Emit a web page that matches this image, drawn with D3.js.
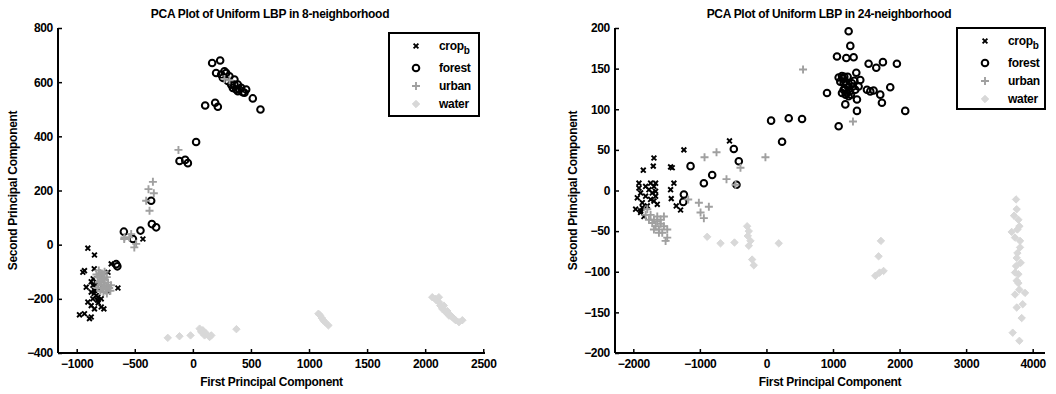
<!DOCTYPE html>
<html><head><meta charset="utf-8">
<script src="https://cdn.jsdelivr.net/npm/d3@7"></script>
<style>
body{margin:0;background:#fff;}
svg text{font-family:"Liberation Sans",Arial,sans-serif;font-weight:bold;letter-spacing:-0.3px;}
</style></head>
<body><svg id="c" width="1056" height="394"></svg>
<script>
// ---------- data: left panel (8-neighborhood) ----------
const cropL = [[-904,-13],[-847,-38],[-933,-96],[-947,-102],[-849,-89],[-731,-102],[-703,-71],[-645,-160],
 [-918,-157],[-875,-175],[-847,-169],[-832,-188],[-861,-200],[-818,-194],[-904,-212],[-875,-225],[-789,-230],
 [-847,-237],[-933,-255],[-976,-259],[-875,-267],[-890,-273],[-766,-237],[-731,-174],[-858,-126],[-832,-145],
 [-806,-163],[-875,-137],[-789,-200],[-815,-215],[-430,21],[-850,-180],[-820,-205],[-860,-150]];
const forestL = [[166,671],[235,680],[200,634],[272,640],[315,622],[358,610],[387,591],[416,579],[459,573],
 [373,573],[430,563],[516,540],[582,499],[106,514],[192,524],[215,509],[28,379],[-115,309],[-66,313],[-43,301],
 [-359,162],[-353,76],[-316,64],[-594,48],[-451,52],[-516,21],[-660,-72],[-650,-80],[244,628],[301,604],
 [330,591],[344,579],[401,573],[258,616],[287,634],[358,591],[387,567],[444,561]];
const urbanL = [[-810,-95],[-800,-105],[-790,-115],[-820,-120],[-780,-125],[-800,-135],[-770,-140],[-790,-150],
 [-760,-150],[-780,-160],[-750,-165],[-770,-175],[-740,-180],[-810,-140],[-760,-130],[-795,-170],[-745,-155],
 [-775,-110],[-830,-110],[-720,-160],[-730,-140],[-705,-150],[-760,-100],[-820,-160],[-740,-120],[-710,-170],
 [-344,232],[-382,205],[-336,190],[-402,162],[-373,125],[-124,350],[272,612],[315,607],
 [-589,27],[-531,39],[-488,3],[-504,-10],[-548,27],[-591,21]];
const waterL = [[-216,-344],[-115,-338],[-20,-335],[58,-310],[86,-316],[115,-328],[144,-341],[101,-335],
 [72,-322],[159,-335],[375,-312],[1081,-255],[1110,-271],[1138,-286],[1167,-298],[1095,-261],[1124,-280],
 [2061,-194],[2089,-200],[2118,-212],[2130,-225],[2147,-237],[2176,-249],[2200,-255],[2233,-267],[2262,-279],
 [2291,-286],[2118,-194],[2160,-225],[2190,-245],[2220,-262],[2250,-274],[2320,-279],[2095,-205],[2205,-262]];
// ---------- data: right panel (24-neighborhood) ----------
const cropR = [[-1850,25],[-1690,40],[-1700,30],[-1240,50],[-555,61],[-1440,29],[-1415,28],[-1390,9],[-1440,1],
 [-1430,-10],[-1355,-19],[-1290,-24],[-1915,9],[-1915,3],[-1890,-3],[-1940,-9],[-1865,-15],[-1965,-23],
 [-1890,-27],[-1840,-32],[-1790,-19],[-1740,-11],[-1765,1],[-1690,5],[-1665,9],[-1715,-3],[-1665,-7],
 [-1815,-7],[-1640,-17],[-1865,-21],[-1665,-1],[-1815,5],[-1740,9],[-1890,-25],[-1690,-13]];
const forestR = [[1235,196],[1260,178],[1060,165],[1200,163],[1310,164],[1535,156],[1650,151],[1750,158],
 [1960,156],[910,120],[1085,139],[1135,141],[1185,134],[1350,145],[1410,136],[1160,124],[1235,128],[1285,132],
 [1335,124],[1385,128],[1510,124],[1610,123],[1560,122],[1710,118],[1860,127],[1735,108],[1360,112],[1185,106],
 [1360,98],[2085,98],[1085,79],[1235,116],[1135,120],[1210,120],[1160,132],[1110,134],
 [1150,138],[1170,140],[1180,125],[1200,130],[1250,122],[1270,118],[1300,128],[1320,135],[1220,140],[1190,118],
 [70,86],[335,89],[535,88],[235,60],[-490,51],[-415,36],[-450,7],[-815,19],[-940,9],[-1140,30],[-1240,-5],[-1250,-14]];
const urbanR = [[550,149],[1300,85],[-15,41],[-750,47],[-930,41],[-390,28],[-600,14],[-465,7],[-1175,-11],
 [-1015,-15],[-865,-20],[-990,-27],[-940,-34],[-1490,-58],[-1515,-62],[-1790,-23],[-1740,-30],[-1690,-36],
 [-1640,-38],[-1590,-41],[-1615,-48],[-1540,-44],[-1690,-48],[-1565,-52],[-1765,-36],[-1640,-32],[-1715,-40],
 [-1540,-32],[-1490,-48],[-1665,-44],[-1615,-52],[-1815,-30],[-1590,-36]];
const waterR = [[-890,-57],[-690,-65],[-480,-64],[-290,-44],[-265,-50],[-280,-56],[-240,-62],[-265,-68],
 [-215,-85],[-190,-92],[185,-65],[1720,-62],[1685,-81],[1760,-99],[1635,-105],[1700,-101],[3750,-11],
 [3760,-23],[3785,-36],[3800,-44],[3685,-51],[3735,-58],[3810,-70],[3770,-77],[3820,-89],[3750,-93],
 [3785,-103],[3760,-111],[3800,-122],[3735,-128],[3885,-126],[3850,-140],[3760,-144],[3835,-157],
 [3700,-175],[3800,-185],[3720,-31],[3770,-48],[3810,-62],[3760,-83],[3735,-101],[3785,-114]];

const xTicksL = [-1000,-500,0,500,1000,1500,2000,2500];
const yTicksL = [-400,-200,0,200,400,600,800];
const xTicksR = [-2000,-1000,0,1000,2000,3000,4000];
const yTicksR = [-200,-150,-100,-50,0,50,100,150,200];
const seriesNames = ["crop","forest","urban","water"];

const svg = d3.select("#c");

function marker(g, type, x, y){
  if(type==="crop"){
    const s=2.4;
    g.append("path").attr("d",`M${x-s},${y-s}L${x+s},${y+s}M${x-s},${y+s}L${x+s},${y-s}`)
     .attr("stroke","#000").attr("stroke-width",1.9).attr("fill","none");
  } else if(type==="forest"){
    g.append("circle").attr("cx",x).attr("cy",y).attr("r",3.3)
     .attr("fill","none").attr("stroke","#000").attr("stroke-width",2);
  } else if(type==="urban"){
    const s=4;
    g.append("path").attr("d",`M${x-s},${y}L${x+s},${y}M${x},${y-s}L${x},${y+s}`)
     .attr("stroke","#a0a0a0").attr("stroke-width",1.9).attr("fill","none");
  } else {
    const s=3.7;
    g.append("path").attr("d",`M${x},${y-s}L${x+s},${y}L${x},${y+s}L${x-s},${y}Z`)
     .attr("fill","#d8d8d8").attr("stroke","#d8d8d8").attr("stroke-width",1);
  }
}

function panel(cfg){
  const x = d3.scaleLinear().domain(cfg.xd).range([cfg.x0,cfg.x1]);
  const y = d3.scaleLinear().domain(cfg.yd).range([cfg.y1,cfg.y0]);
  const g = svg.append("g");
  const data = [cfg.crop,cfg.forest,cfg.urban,cfg.water];
  seriesNames.forEach((n,i)=>{
    const sg=g.append("g");
    data[i].forEach(d=>marker(sg,n,x(d[0]),y(d[1])));
  });
  const ax = g.append("g").attr("transform",`translate(0,${cfg.y1})`)
    .call(d3.axisBottom(x).tickValues(cfg.xt).tickSizeInner(-4).tickSizeOuter(0).tickPadding(6).tickFormat(d3.format("d")));
  const ay = g.append("g").attr("transform",`translate(${cfg.x0},0)`)
    .call(d3.axisLeft(y).tickValues(cfg.yt).tickSizeInner(-4).tickSizeOuter(0).tickPadding(5).tickFormat(d3.format("d")));
  [ax,ay].forEach(a=>{
    a.select(".domain").remove();
    a.selectAll("line").attr("stroke","#000").attr("stroke-width",1.5);
    a.selectAll("text").attr("font-size",12).attr("fill","#000");
  });
  g.append("line").attr("x1",cfg.x0).attr("x2",cfg.x1).attr("y1",cfg.y1).attr("y2",cfg.y1).attr("stroke","#000").attr("stroke-width",2);
  g.append("line").attr("x1",cfg.x0).attr("x2",cfg.x0).attr("y1",cfg.y0).attr("y2",cfg.y1).attr("stroke","#000").attr("stroke-width",2);
  g.append("text").attr("x",cfg.tx).attr("y",18).attr("text-anchor","middle").attr("font-size",12).text(cfg.title);
  g.append("text").attr("x",(cfg.x0+cfg.x1)/2).attr("y",386).attr("text-anchor","middle").attr("font-size",12).text("First Principal Component");
  g.append("text").attr("transform",`translate(${cfg.lx},${(cfg.y0+cfg.y1)/2}) rotate(-90)`).attr("text-anchor","middle").attr("font-size",12).text("Second Principal Component");
  // legend
  const L=cfg.leg;
  g.append("rect").attr("x",L.x).attr("y",L.y).attr("width",L.w).attr("height",L.h)
   .attr("fill","#fff").attr("stroke","#000").attr("stroke-width",2);
  seriesNames.forEach((n,i)=>{
    const yy=L.rows[i];
    const lg=g.append("g");
    marker(lg,n,L.mx,yy);
    const t=g.append("text").attr("x",L.tx).attr("y",yy+4).attr("font-size",12);
    t.append("tspan").text(n);
    if(n==="crop") t.append("tspan").attr("dy",4).attr("font-size",10).text("b");
  });
}

panel({xd:[-1161,2515],yd:[-400,800],x0:58,x1:485,y0:28,y1:353,xt:xTicksL,yt:yTicksL,
  crop:cropL,forest:forestL,urban:urbanL,water:waterL,tx:270,lx:17,
  title:"PCA Plot of Uniform LBP in 8-neighborhood",
  leg:{x:389,y:33,w:90,h:83,mx:416,tx:439,rows:[46,68,86,104]}});
panel({xd:[-2275,4185],yd:[-200,200],x0:615,x1:1045,y0:28,y1:353,xt:xTicksR,yt:yTicksR,
  crop:cropR,forest:forestR,urban:urbanR,water:waterR,tx:829,lx:577,
  title:"PCA Plot of Uniform LBP in 24-neighborhood",
  leg:{x:957,y:28,w:88,h:81,mx:985,tx:1008,rows:[41,63,81,99]}});
</script></body></html>
